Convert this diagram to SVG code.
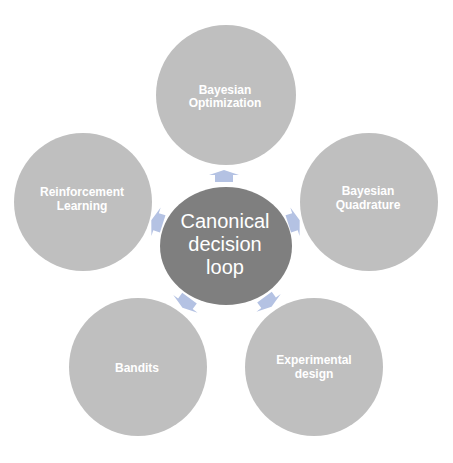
<svg xmlns="http://www.w3.org/2000/svg" width="453" height="463" viewBox="0 0 453 463">
<defs>
<style>
.outer{fill:#bfbfbf}
.center{fill:#7f7f7f}
.lbl{font-family:"Liberation Sans",Arial,sans-serif;font-weight:bold;font-size:12px;fill:#ffffff;text-anchor:middle}
.clbl{font-family:"Liberation Sans",Arial,sans-serif;font-size:20px;fill:#ffffff;text-anchor:middle}
.arr{fill:#b4c2e3}
</style>
<path id="arrow" d="M0,-6 L15,-1 L9,-1 L9,6 L-9,6 L-9,-1 L-15,-1 Z"/>
</defs>
<rect width="453" height="463" fill="#ffffff"/>
<g id="connectors">
<use href="#arrow" class="arr" transform="translate(224,176)"/>
<use href="#arrow" class="arr" transform="translate(294,222) rotate(72)"/>
<use href="#arrow" class="arr" transform="translate(268,302) rotate(144)"/>
<use href="#arrow" class="arr" transform="translate(186,303) rotate(216)"/>
<use href="#arrow" class="arr" transform="translate(157,222) rotate(288)"/>
</g>
<g id="bayesian-optimization">
<circle class="outer" cx="226" cy="95" r="70"/>
<text class="lbl" x="225" y="94">Bayesian</text>
<text class="lbl" x="225" y="107">Optimization</text>
</g>
<g id="bayesian-quadrature">
<circle class="outer" cx="369" cy="202" r="69"/>
<text class="lbl" x="368" y="195">Bayesian</text>
<text class="lbl" x="368" y="209">Quadrature</text>
</g>
<g id="reinforcement-learning">
<circle class="outer" cx="83" cy="202" r="69"/>
<text class="lbl" x="82" y="196">Reinforcement</text>
<text class="lbl" x="82" y="210">Learning</text>
</g>
<g id="bandits">
<circle class="outer" cx="138" cy="367" r="69"/>
<text class="lbl" x="137" y="372">Bandits</text>
</g>
<g id="experimental-design">
<circle class="outer" cx="314" cy="367" r="69"/>
<text class="lbl" x="314" y="364">Experimental</text>
<text class="lbl" x="314" y="378">design</text>
</g>
<g id="canonical-decision-loop">
<ellipse class="center" cx="226" cy="246" rx="66" ry="59"/>
<text class="clbl" x="225" y="228">Canonical</text>
<text class="clbl" x="225" y="251">decision</text>
<text class="clbl" x="225" y="274">loop</text>
</g>
</svg>
